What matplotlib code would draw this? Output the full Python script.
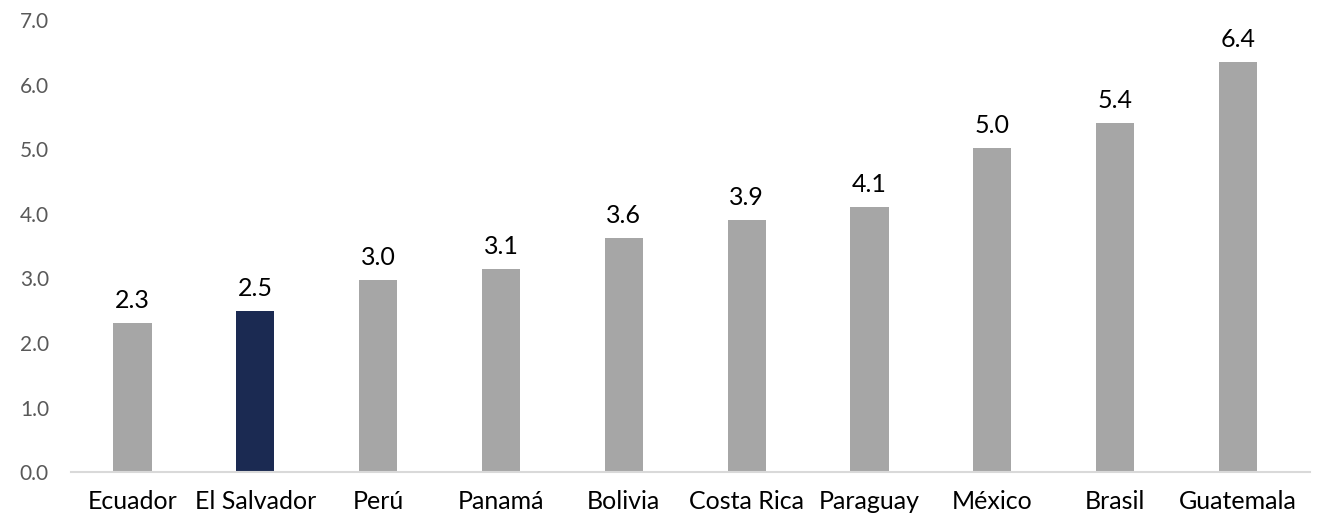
import matplotlib
matplotlib.use('Agg')
import matplotlib.pyplot as plt

plt.rcParams['font.family'] = ['Lato', 'DejaVu Sans']

countries = ['Ecuador', 'El Salvador', 'Perú', 'Panamá', 'Bolivia',
             'Costa Rica', 'Paraguay', 'México', 'Brasil', 'Guatemala']
values = [2.31, 2.49, 2.98, 3.14, 3.62, 3.90, 4.11, 5.02, 5.40, 6.35]
labels = ['2.3', '2.5', '3.0', '3.1', '3.6', '3.9', '4.1', '5.0', '5.4', '6.4']
highlight = 'El Salvador'

colors = ['#1B2A52' if c == highlight else '#A6A6A6' for c in countries]

fig = plt.figure(figsize=(13.17, 5.16), dpi=100)
ax = fig.add_axes([0.054, 0.085, 0.941, 0.876])

x = range(len(countries))
bars = ax.bar(x, values, width=0.31, color=colors)

for b, lab in zip(bars, labels):
    ax.text(b.get_x() + b.get_width() / 2, b.get_height() + 0.17, lab,
            ha='center', va='bottom', fontsize=18, color='black')

ax.set_ylim(0, 7)
ax.set_xlim(-0.5, 9.59)
ax.set_yticks([0, 1, 2, 3, 4, 5, 6, 7])
ax.set_yticklabels([f'{v:.1f}' for v in range(8)], fontsize=15, color='#595959')
ax.set_xticks(list(x))
ax.set_xticklabels(countries, fontsize=18, color='black')
ax.tick_params(axis='y', length=0, pad=16)
ax.tick_params(axis='x', length=0, pad=13)

for s in ['top', 'right', 'left']:
    ax.spines[s].set_visible(False)
ax.spines['bottom'].set_color('#D9D9D9')
ax.spines['bottom'].set_linewidth(1.5)

fig.savefig('out.png', dpi=100)
